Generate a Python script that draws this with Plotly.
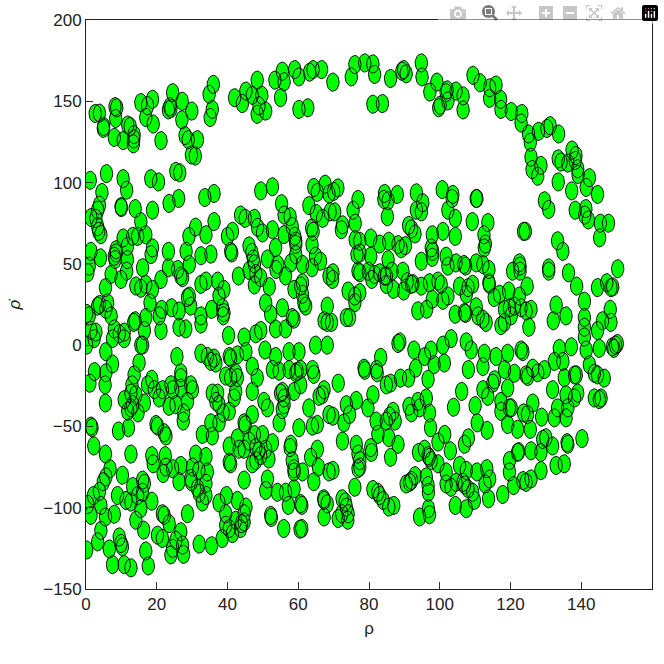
import numpy as np
import plotly.graph_objects as go

upper_arc_left = [(2.6,142.5),(3.8,142.7),(4.9,133.3),(5,134.5),(8.2,146.7),(8.7,146),(8.4,139.4),(8,127.8),
(10.5,125.8),(11.8,135.4),(12.5,134.5),(13.6,129.5),(13.5,126.8),(13.4,123.8),(15.5,149.2),(16.9,140),(17.4,147.2),(18.8,151.2),(19,136),
(21.2,125.8),(23.3,144.7),(23.7,146.7),(24,145.5),(24.5,155.3),(27.2,150),(27.1,138.6),(28,128.9),(28.9,126.4),(31.5,126.4),(29.9,144),
(29.8,117),(30.9,116.3),(34.8,154.3),(36,160.4),(35.7,145),(35.1,140),(42,152.2),(44.2,148.6),(45.2,156.3),(47,153.7),(48.4,163),(49.7,153.7),(48.9,147.2),(48.4,142),(50.8,144),
(53.4,163),(55.5,168.5),(56,162),(55,152.2),(59,169.5),(60.2,165),(60.2,145),(62.7,146),(63.2,167.9),(64.2,169.5),(66.6,169.5)]

upper_arc_right = [(69.8,161.8),(75,165),(76,172.6),(78.8,173.6),(81.1,173),(81.6,166.5),(81.1,148.2),(83.8,148.6),(86.1,164),
(89.3,168.5),(89.8,169.5),(90.5,166.9),(94.8,173.6),(95,165),(97.2,155.7),(99.2,161.8),(99.7,146),(100.1,147.6),(101.8,155.3),(102.1,157),(102.3,150.2),
(104.6,156.3),(106.6,153.3),(106.6,144.7),(109.4,166),(111.4,161.4),(114.1,158.3),(115.9,160),(114.1,151.8),(117.2,151.2),(117.3,145),
(120.2,143.7),(123.2,142.5),(123,136.6),(125.1,129.9),(125.6,124.8),(125.8,115.6),(126.1,108),(128.6,110.6),(127.7,103.9),
(127.9,131.5),(130.3,133.3),(131.2,135),(133.6,129.9),(133.5,114.6),(134.3,112.6),(133.5,100.4),(136.2,112),(137.4,120),(138.5,116.7),(138.3,113.6),(139.1,105),(139,108.5),
(142.3,103),(141.4,97),(144.6,92.7),(137.3,94.9),(138.3,83),(141.3,84),(141,80),(142,77),(129.6,88.8),(130.8,83.5),(145.4,75),(147.7,75),(145.2,66)]

upper_right = [(70,94.5),(71.2,96.7),(76.9,89.6),(75.5,83),(70.3,82),(72.5,74),(72.2,71),(76.1,75),
(84.4,93.3),(84.2,89.6),(85.4,88.8),(85.2,79),(88,92.7),(93.4,93.7),(95.2,87.6),(93.4,83),(94.8,82),
(100.7,95.7),(103.7,92.7),(103.5,90.2),(102.3,83),(104.4,78),(110.3,90.2),(110.5,90.2),(109.2,76),(113.6,75.4),
(91.2,73.6),(92,71.5),(93,68.4),(97.9,67.9),(100.9,70),(104.4,66.9),(112.5,67.9),(112.9,62.2),(112.6,59.8),(123.7,70),(124.2,70),(133.3,64.2),(134.8,57.7),
(76.1,64.9),(77.4,63.9),(80.5,65.9),(83,62.2),(85.6,63.9),(88.2,61.8),(89.1,59.3),(90.3,61.2),(76.6,55.7),(77.4,56.7),(80.5,54.7),(85.4,52.6),
(94.8,51.6),(97.6,59.8),(98,57.7),(97.9,54),(101.8,54.7),(102.3,48.6),(104.6,50.6),(106.8,49.6),(107.3,48.6),(110.3,50.6),(112.2,49.6),
(113.9,46.5),(113.9,38.4),(122.5,50.6),(122.7,48.6),(122.7,45.5),(120.6,45.5),(130.8,47.5),(130.8,45.5),(136.4,44.5),(138.7,36.3),(150.3,47),
(144.6,35.4),(147.2,38.4),(148.4,35.4),(148.9,35.8),(76.9,45.5),(77.4,44.5),(79.8,45.5),(80.8,40.4),(81.6,43.5),(83,44.5),(84.4,42.5),(84.9,42.5),(84.9,37.4),(86.5,45.5),(86.9,34.3),(89.6,45.5),(89.8,33.3),(90.8,39),(92,37.4),(92.4,37.8),
(94.8,36.3),(97.1,38.4),(99.5,39.4),(100.4,37.4),(97.9,28.2),(100.9,27.6),(102.3,30.2),(105.6,36.3),(108,35.4),(109.3,37.4),(107.5,31.3),(114,37.4),(115.4,29.3),(116.9,31.3),(119.5,33.3),(124.7,36.3),(122.5,30.2),
(74.1,33.3),(76,30.2),(77.4,32.3),(76,26.1),(69.7,40.4),(69.8,44.5),(93.8,21.1),(96.3,22.1),(73.6,17),(74.5,17),(69.4,14),
(104.4,19),(107,20.1),(107.3,19.5),(110.3,23.6),(110.8,18),(112.2,16),(113.1,14),(118.3,22),(119.7,23),(121.1,24),(123,23),(124.4,21),(125.8,22),(118.3,14),(117.3,12),(120.2,18),(125.2,11),
(132.9,24.7),(135.7,18),(132.1,15),(140.9,27),(140.9,17),(148.2,22),(146,15),(148.4,14),(140.9,11),(144.6,9)]

upper_left = [(1.2,101.4),(5.8,105.5),(10.5,102.4),(11.5,95.3),(18.3,102.4),(20.5,100.4),(25.4,106.9),(26.5,106),(4.5,93.9),(3.8,86.1),(3.3,83),(10,84.6),(9.9,85.2),(13.9,84),(18.8,83),(23.5,87.2),(26.2,90.2),(33.6,90.8),(36.2,93.3),(49.4,94.9),(52.7,97.4),
(1.4,78.5),(2.8,78),(3.3,72.9),(4.2,67.9),(3.6,70),(15.5,76),(14.6,66.9),(16.9,67.9),(13.2,66.9),(10.5,65.9),(11.7,60.8),(31,72.6),(29.1,66.9),(33.9,67.9),(36.2,76),(40,66.9),(41.4,70),(40.9,57.7),(41.2,56.7),
(28.3,57.7),(32.5,55),(35.3,56),(23.3,57.7),(18.8,59.8),(18.4,55.7),(1.4,57.7),(4.1,53.7),(0.5,44.5),(0.9,48.6),(8.5,58.7),(8,54.7),(8.5,56.7),(8.2,52.6),(11.7,52.6),(7.1,43.5),(9.9,40.4),(11.5,45.5),(16,47.6),
(23.3,47.6),(21.2,40.4),(25.9,46.5),(26.8,42.5),(27.3,41.5),(29.2,49.6),(32.5,37.4),(33.9,39.4),(37.2,39.4),(39,34.3),(43.1,42.5),(14.1,36.4),(15.5,35),(16.9,37.4),(18.8,34.3),(5.5,35.4),(29.2,30.2),(28.7,29.3),(37.6,30.2),
(18.1,26),(3.8,25),(6.1,26),(5.6,22),(3.3,24),(0.2,19.5),(0.9,18),(7.1,18),(16.9,17),(13.9,15),(13.5,14),(21.4,22),(20.7,18),(24.2,23),(26.3,21),(29.6,24),(32.5,18),(35.5,22),(38.6,23),(39,20),(38.8,18),
(1.4,9),(2.8,8),(8,10),(9.4,7),(10.8,8),(16.5,9),(21.2,9),(26.3,11),(28.2,10),(32.5,13),(40.3,6),(44.7,5),(49.4,9),(48,7),(53.6,10),(58.3,17),(58.8,16),(56.4,10),
(43.7,80),(45,78),(47.6,78),(48.5,72.4),(49.9,69),(52.7,71),(56,68),(58.3,73),(59,67),(59.3,64),(59.3,62),(55.3,87),(56,80),(57.7,79),(63,85.8),(64.2,70),(63.8,72),(64.4,97),(65.4,94),(67.6,99),(68.7,93),(65.1,81),(66.9,78),(69,82),
(46.1,61),(46.9,57),(47.3,53),(47.6,50),(46.1,46),(48,44),(47.6,37),(49.4,41.5),(51.3,53),(53.6,60),(51.8,36),(54.2,49.6),(53.7,46.5),(56.4,42.5),(57.9,50.6),(61.2,49.6),(59.3,55.7),(63.9,61.8),(64.9,54.7),(66.3,51.6),(63.9,47.6),(68.7,42.5),
(61.2,38.4),(58.8,34.3),(60.7,36.4),(61.2,31.3),(62.1,24),(61.6,26),(50.8,26),(52.2,19),(55.5,23),(68.2,24),(68.2,14),(67.3,15)]

lower_left = [(0.2,0),(2.3,4),(7.5,4),(10.8,4),(15.5,0),(16,0),(5.6,-4),(7.5,-11.6),(15,-10.8),(2.4,-16.3),(5.6,-17),(1.1,-23.4),(5.4,-24.4),(5.5,-35.6),(13.6,-18.3),(13,-24.4),(25.7,-7),(26.8,-17),(26.8,-20),
(18.6,-21),(17.4,-24.4),(19.3,-27.4),(21.6,-27.4),(24,-24.4),(24.5,-27.4),(20.7,-32.5),(23.5,-37.6),(25.4,-36.6),(26.8,-26.4),(29.6,-24.4),(30.1,-27.4),(28.7,-34.6),(27.6,-41.7),(27.5,-46.7),
(10.8,-33.5),(12.7,-29.5),(14.1,-30.5),(16.5,-35.6),(14.7,-41.7),(11.8,-40.7),(13.2,-36.6),(12.7,-38.6),(12,-50.8),(9.2,-52.8),(1.4,-49.8),(1.7,-50.8),(2.2,-62),(5.5,-67),(12.7,-67),(19.8,-48.8),(20.2,-49.8),(22.1,-53.9),(22.6,-55.9),
(32.5,-5),(34.3,-7),(36.2,-8),(36.7,-11),(35.3,-10),(40.5,-7),(40.9,-8),(42.8,-6),(45.2,-4),(47,-13),(48.4,-20),(47,-28.5),(50.6,-3),(39.5,-19),(40.9,-20),(42.3,-17),(42.8,-20),(42.3,-28.5),(41.9,-32.5),(40.5,-40.7),
(35.7,-29.5),(37.2,-29.5),(36.7,-34.6),(37.6,-36.6),(38.8,-41.7),(37.6,-47.8),(35.3,-47.8),(35.7,-55.9),(32.9,-54.9),(44.7,-47.8),(45,-49),(47,-42.7),(50.3,-34.6),(51.3,-38.6),(54.6,-47.8),(55.5,-39.6),
(52.7,-15),(54.6,-16),(55.5,-28.5),(55,-29.5),(56,-32.5),(56,-36.6),(57.4,-4),(60.2,-4),(53.6,-7),(57.4,-15),(59.3,-17),(59.7,-16),(60.7,-15),(58.8,-28.5),(60.7,-24.4),(64,-15),(64.4,-18),(63,-38.6),(64,-49.8),(65.4,-48.8),(67.3,-27.4),(65.9,-31.5),(66.8,-30.5),(68.7,-42.7),(64.9,0),(68.2,0),
(40.5,-62),(42.8,-57),(43.3,-64),(40.5,-72),(40.9,-73),(44.7,-64),(46.1,-59),(47.6,-55),(49.9,-55),(52.7,-60),(48,-63),(48.9,-65),(48,-71),(49.4,-68),(50.8,-64),(51.7,-70),(47,-73),
(60.2,-50.8),(57.9,-61),(57.7,-63),(58.3,-71),(58.8,-76),(58.8,-78),(61.2,-78),(63.5,-69),(65.4,-64),(65.7,-75),(64.4,-84),(44.7,-83),
(18.6,-68),(19,-73),(22.4,-68),(21.8,-79),(22.6,-75),(24.5,-76),(26.8,-74),(26.3,-84),(31,-67),(33.9,-68.5),(30.1,-75),(31.9,-77),(34.3,-78),(29.6,-82),(29.8,-84),(31.5,-88),(33.9,-85),(32,-91),(33.9,-92.5),(32.9,-96.5),
(6.8,-76),(5.6,-81),(4.9,-84),(10.3,-80),(3.8,-90),(2.1,-92.5),(4.2,-98.6),(0.5,-98),(1.4,-104.7),(5.5,-105.7),(8,-104),(8.9,-92.5),(11.3,-95.5),(13.2,-87),(14.6,-92.5),(12.7,-96.5),(16,-83),(16.5,-85),(16,-90.5),(18.6,-96),(15.5,-100.6),(14.1,-107.7),(16.3,-113.8),
(21.6,-103.7),(22.1,-104.7),(23.5,-109.8),(28.7,-103.7),(20.2,-116.9),(21.6,-118.9),(26.8,-114.8),(25.4,-120),(24.5,-125),(24,-129),(27.3,-123),(27.6,-128.7),
(4.2,-114),(3.3,-121),(0.2,-126),(6.6,-125.4),(7.5,-135),(9.4,-118),(9.9,-122),(10.3,-124),(10.8,-135),(12.7,-137),(16.9,-126.6),(17.6,-135.8),
(32,-122.4),(35.5,-123.4),(38.5,-119),(39.7,-92.5),(37.6,-97),(39.5,-103.7),(42.8,-95.5),(45.2,-99.6),(44.7,-103.7),(42.3,-107.7),(40.5,-112.8),(39.5,-110.8),(41.4,-115.9),(44,-109.8),(43.7,-112.8),(44.7,-108.7),
(51.3,-82.3),(50.8,-89.4),(54.1,-90.5),(56.4,-90.5),(57.2,-98.6),(58.8,-88.4),(60.7,-97.5),(61,-98.6),(52.2,-104.7),(52.4,-106),(55.9,-112.8),(60.5,-113.2),(61,-112.8),(67.2,-94.5),(67.3,-95.5),(68.2,-97.6),(67.3,-105.7),(68.7,-78)]

lower_right = [(69.8,-77),(71.3,-23.4),(72.5,-59),(72.4,-94.5),(73.3,-96.5),(71.3,-106.7),(72.3,-103.7),(74.1,-103.7),(74,-107.7),(73.6,-99.6),(73.6,-36.6),(76.4,-34),(74.5,-42.7),(72.9,-47.8),(69.8,-43.7),
(76.4,-61),(76.9,-67),(80.5,-63),(80.7,-66),(77.4,-71),(76.9,-76),(77.4,-75),(76,-87.4),(81.1,-88.8),(82.5,-90.5),(83,-92.5),(84,-95.5),(85.6,-99.6),(87,-98.6),
(78.6,-14.2),(78.8,-15.5),(83.3,-7.5),(82.1,-15),(82.3,-17),(84.9,-24.4),(86.1,-23.4),(88.9,-20.3),(91.2,-20.3),(81.1,-30.5),(79.7,-38.6),(82,-46.7),(84.9,-46.7),(82.5,-54.9),(85.6,-56.9),(86.1,-69),(88.2,-61),(86.8,-40.7),(85.8,-43.7),(87.4,-46.7),
(91.3,-37.6),(93.8,-34.6),(92,-41.7),(94.3,-38.6),(96.2,-32.5),(97.1,-41.7),(97.4,-50.8),(99.5,-59.6),(101.4,-54.9),(103,-65),(88.7,2),(88.2,1),(92.7,-3),(93.2,-14.2),(95.7,-7),(97.5,-3),(98.4,-12),(101.3,-11),(96.7,-21),(100.9,0),(103.2,4),(107.5,2),(108.9,-3),(108.1,-15),(106.2,-28.5),(103.9,-38.2),
(110,-37.2),(110.6,-47.8),(113.4,-52.4),(108.1,-57),(107,-61),(94,-66),(95.7,-64),(96.7,-68),(97.6,-71),(97,-69),(99.5,-73),(96.2,-81),(96.7,-86.4),(96.8,-90.5),(90.5,-85.4),(91.5,-84.4),(92,-83.3),(93,-80.3),(94.3,-105.7),(97.1,-104.3),(96.8,-100.6),
(101.8,-78),(101.8,-85.4),(103.2,-87.4),(104.6,-84.4),(105.6,-74),(107.5,-77),(106.6,-84.4),(107,-86),(109.3,-90.5),(110.5,-78),(104.4,-98.6),(107.5,-100.6),(109.8,-95.5),(113.3,-76),(114.1,-82.3),(112.8,-85.4),(113.8,-94.5),(117.8,-91.9),(108,-88.4),
(120.9,-86.4),(123.5,-83.3),(124.4,-84.4),(125.8,-82.3),(128.6,-77.2),(119.7,-71),(119.7,-78),(122,-66),(122.3,-65.5),(125.8,-65),(128.6,-66),(129.1,-58),(130,-57),(131.9,-62),(132.9,-74),(135.2,-73),(136.2,-61),(136,-60),(140.2,-57.5),
(122,-51.8),(125.6,-51.8),(123.7,-41.7),(126.3,-35.6),(124.8,-42.7),(128.8,-44.3),(119.2,-48.8),(119.7,-38.6),(120.2,-38.6),(117.3,-40.7),(117.3,-34.6),(112.2,-27.4),(113.6,-31.5),(115,-23.4),(115.5,-21.3),(119.2,-26.4),(115.9,-7),(112.2,-13.2),(112.6,-5),
(121.1,-17.3),(119.2,-5),(118.3,-15),(124.4,-18.3),(124.9,-19.3),(123,-3),(123.5,-4),(126.3,-14.2),(127.7,-17),(129.6,-15),(131.9,-27.4),(132.4,-10),(133.8,-2),(134.8,-10),(135.2,-20),(137.2,-1),(138.1,-18.3),(138.6,-18.3),(139,-29.5),(138.1,-32.5),(135.7,-30.5),(136.2,-38.6),(135.7,-44.7),(132.4,-44.7),(133.3,-38.6),
(141.4,-3),(142.3,-12),(143.7,-17.3),(144.6,-18.3),(146.5,-20.3),(143.7,-32.5),(145.6,-32.5),(145.1,-33.5),(145.1,-2),(149.2,-2),(150.2,1),(148.8,-1),(149.7,0),(140.9,5)]

x_ticks = [0, 20, 40, 60, 80, 100, 120, 140, 160]
y_ticks = [-150, -100, -50, 0, 50, 100, 150, 200]
y_tick_labels = ["\u2212150", "\u2212100", "\u221250", "0", "50", "100", "150", "200"]

points = upper_arc_left + upper_arc_right + upper_right + upper_left + lower_left + lower_right
rho = np.array([p[0] for p in points])
rho_dot = np.array([p[1] for p in points])

# Markers are elliptical in the picture (axes stretched), so outline each in data units.
t = np.linspace(0, 2 * np.pi, 25)
xs, ys = [], []
for cx, cy in zip(rho, rho_dot):
    xs += list(cx + 1.75 * np.cos(t)) + [None]
    ys += list(cy + 5.6 * np.sin(t)) + [None]

fig = go.Figure(go.Scatter(x=xs, y=ys, mode="lines", fill="toself", fillcolor="#00ff00",
                           line=dict(color="#111111", width=1), cliponaxis=False,
                           hoverinfo="skip", showlegend=False))

font = dict(family="Liberation Sans Narrow, Liberation Sans", size=17, color="#222222")
axis = dict(showgrid=False, zeroline=False, showline=True, linecolor="#222222", linewidth=1,
            mirror=True, ticks="inside", ticklen=7, tickcolor="#333333", tickfont=font)
fig.update_xaxes(range=[0, 160], tickvals=x_ticks, ticktext=[str(v) for v in x_ticks],
                 title=dict(text="\u03c1", font=font, standoff=8), **axis)
fig.update_yaxes(range=[-150, 200], tickvals=y_ticks, ticktext=y_tick_labels,
                 title=dict(text="<i>\u03c1\u0307</i>", font=font, standoff=18), **axis)
fig.update_layout(width=664, height=664, autosize=False, plot_bgcolor="white", paper_bgcolor="white",
                  margin=dict(l=86, r=11, t=16, b=75), showlegend=False)
fig.write_html("out.html", post_script="document.body.style.margin='0';")
